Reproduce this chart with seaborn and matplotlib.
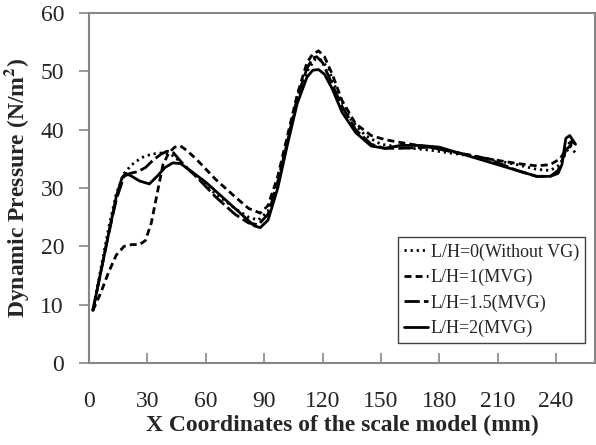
import matplotlib
matplotlib.use("Agg")
import matplotlib.pyplot as plt
import seaborn as sns
import pandas as pd

# ---- data ----
x_lh0 = [2, 6, 10, 14, 18, 22, 27, 32, 37, 42, 47, 55, 65, 75, 82, 87, 92, 97, 102, 107, 112, 116, 119, 123, 128, 135, 142, 150, 160, 175, 190, 205, 220, 230, 237, 242, 245, 247, 250]
y_lh0 = [9, 16, 23, 29, 32.5, 34, 35.2, 35.8, 36, 35.8, 34.5, 32, 29, 26.5, 25, 24.5, 26, 31, 38, 45, 50, 52, 52, 50.5, 46, 41.5, 39, 37.5, 37, 36.5, 35.8, 35, 34, 33.2, 33, 34, 36, 37.2, 36]

x_lh1 = [2, 6, 10, 14, 18, 22, 26, 29, 32, 35, 38, 41, 44, 47, 50, 55, 65, 75, 82, 88, 92, 97, 102, 107, 112, 115, 118, 121, 125, 130, 137, 145, 152, 160, 175, 190, 205, 220, 230, 237, 242, 245, 248, 250]
y_lh1 = [9, 12, 15.5, 18.5, 20, 20.3, 20.3, 21, 24, 29, 34, 36, 37, 37.2, 36.5, 35, 31.5, 28.5, 26.5, 25.7, 27, 32, 39, 46, 51.5, 53, 53.5, 52.5, 49.5, 45, 41, 39, 38.3, 37.8, 37, 36, 35, 34.2, 33.8, 34, 35, 36.5, 37.5, 37.5]

x_lh15 = [2, 6, 10, 14, 18, 21, 25, 29, 33, 37, 40, 43, 46, 50, 55, 65, 75, 82, 87, 92, 97, 102, 107, 112, 115, 117, 120, 124, 130, 137, 145, 152, 160, 175, 190, 205, 220, 230, 237, 241, 244, 246, 248, 250]
y_lh15 = [9, 15.5, 22, 28, 32, 32.5, 32.8, 33.5, 34.8, 35.8, 36.3, 36.2, 35, 33.5, 32, 28.5, 25.5, 24, 23.7, 25.5, 31, 38, 45.5, 50.5, 52.3, 52.5, 51.5, 48.5, 44, 40, 37.5, 36.8, 36.8, 37, 36, 35, 33, 32, 32, 33, 35.5, 37.5, 38, 37.5]

x_lh2 = [2, 6, 10, 14, 17, 19, 22, 26, 31, 35, 39, 43, 47, 52, 60, 70, 80, 85, 88, 92, 97, 102, 107, 112, 115, 118, 121, 125, 130, 137, 145, 152, 160, 170, 180, 190, 205, 220, 230, 237, 241, 243, 245, 247, 250]
y_lh2 = [9, 15.5, 22, 28.5, 31.8, 32.5, 32, 31.2, 30.7, 32, 33.5, 34.3, 34.2, 33, 31, 28, 25, 23.5, 23.2, 24.5, 30, 37.5, 44.5, 49, 50.2, 50.3, 49.5, 47, 43, 39.5, 37.2, 36.8, 37.3, 37.3, 37, 36, 34.5, 33, 32, 32, 32.5, 34, 38.5, 39, 37.5]

labels = ["L/H=0(Without VG)", "L/H=1(MVG)", "L/H=1.5(MVG)", "L/H=2(MVG)"]
x_ticks = [0, 30, 60, 90, 120, 150, 180, 210, 240]
y_ticks = [0, 10, 20, 30, 40, 50, 60]

series = [(x_lh0, y_lh0), (x_lh1, y_lh1), (x_lh15, y_lh15), (x_lh2, y_lh2)]
dashes = [(0, (0.8, 1.4)), (0, (2.5, 1.5)), (0, (5.5, 1.5)), "solid"]

sns.set_style("white")
plt.rcParams["font.family"] = ["Liberation Serif", "DejaVu Serif"]
plt.rcParams["mathtext.fontset"] = "stix"

fig = plt.figure(figsize=(5.96, 4.45), dpi=100)
ax = fig.add_axes([89 / 596, 1 - 363 / 445, (595 - 89) / 596, 350 / 445])

for (xs, ys), lab, ls in zip(series, labels, dashes):
    df = pd.DataFrame({"x": xs, "y": ys})
    sns.lineplot(data=df, x="x", y="y", ax=ax, sort=False, color="black",
                 linewidth=2.0, linestyle=ls, label=lab)

ax.set_xlim(0, 260)
ax.set_ylim(0, 60)
ax.set_xticks(x_ticks)
ax.set_yticks(y_ticks)

gray = "#868686"
for s in ax.spines.values():
    s.set_color(gray)
    s.set_linewidth(1.5)
    s.set_visible(True)

ax.tick_params(axis="y", direction="out", length=7, width=1.2, color=gray,
               labelsize=17, pad=11, left=True)
ax.tick_params(axis="x", direction="in", length=7, width=1.2, color=gray,
               labelsize=17, pad=20, bottom=True)

ax.set_xlabel("X Coordinates of the scale model (mm)", fontsize=17,
              fontweight="bold", labelpad=2)
ax.set_ylabel("Dynamic Pressure (N/m$^{\\mathbf{2}}$)", fontsize=17,
              fontweight="bold", labelpad=7)

leg = ax.legend(loc="upper left", bbox_to_anchor=(0.611, 0.36), fontsize=13,
                frameon=True, fancybox=False, handlelength=1.3,
                handletextpad=0.15, labelspacing=0.45, borderpad=0.35,
                borderaxespad=0)
leg.get_frame().set_edgecolor("#404040")
leg.get_frame().set_linewidth(1.0)
leg.get_frame().set_alpha(1)

fig.savefig("out.png", dpi=100)
